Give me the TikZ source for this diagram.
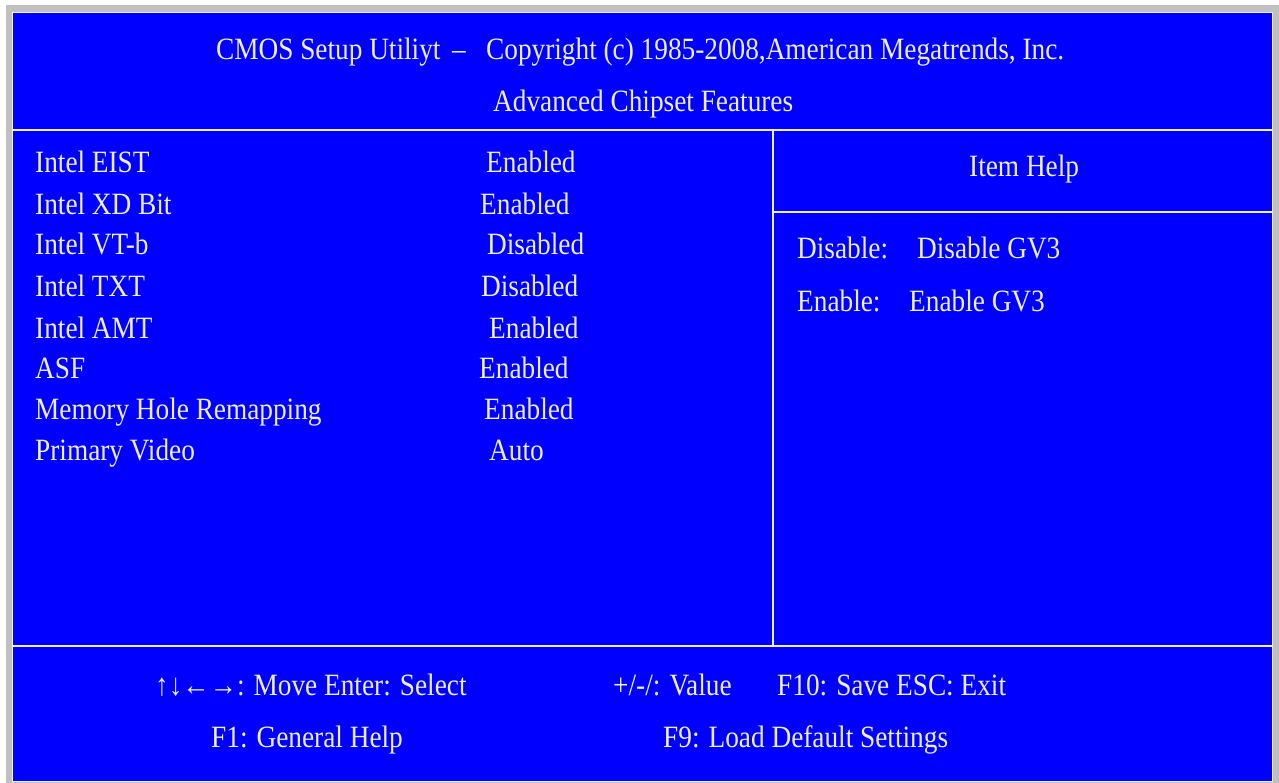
\documentclass[tikz,border=0pt]{standalone}
\usepackage{fontspec}
\setmainfont{Liberation Serif}[FakeStretch=0.88]
\newfontfamily\arrowfont{Liberation Serif}[FakeStretch=0.88]
\definecolor{biosblue}{RGB}{0,0,255}
\definecolor{framegray}{RGB}{192,192,192}
\definecolor{txt}{RGB}{238,238,255}
\begin{document}
\begin{tikzpicture}[x=1pt,y=-1pt,
  lbl/.style={anchor=base west,inner sep=0pt,text=txt,font=\fontsize{31}{37}\selectfont},
  rule/.style={draw=txt,line width=1.5pt}]
\useasboundingbox (0,0) rectangle (1279,783);
\fill[white] (0,0) rectangle (1279,783);
\fill[framegray] (6,5) rectangle (1279,783);
\filldraw[fill=biosblue,draw=txt,line width=1.5pt] (12.5,12.5) rectangle (1272.5,781.5);
% dividers
\coordinate (hl) at (12.5,130);
\coordinate (hr) at (1272.5,130);
\coordinate (vt) at (773,130);
\coordinate (vb) at (773,646);
\coordinate (il) at (773,212);
\coordinate (ir) at (1272.5,212);
\coordinate (bl) at (12.5,646);
\coordinate (br) at (1272.5,646);
\draw[rule] (hl) -- (hr);
\draw[rule] (vt) -- (vb);
\draw[rule] (il) -- (ir);
\draw[rule] (bl) -- (br);
% header
\node[lbl] (t1) at (216,60) {CMOS Setup Utiliyt};
\node[lbl] (t2) at (452,60) {–};
\node[lbl] (t3) at (486,60) {Copyright (c) 1985-2008,American Megatrends, Inc.};
\node[lbl] (t4) at (493,112) {Advanced Chipset Features};
% items
\node[lbl] (i1) at (35,173) {Intel EIST};
\node[lbl] (i2) at (35,215) {Intel XD Bit};
\node[lbl] (i3) at (35,255) {Intel VT-b};
\node[lbl] (i4) at (35,297) {Intel TXT};
\node[lbl] (i5) at (35,338) {Intel AMT};
\node[lbl] (i6) at (35,378) {ASF};
\node[lbl] (i7) at (35,419) {Memory Hole Remapping};
\node[lbl] (i8) at (35,460) {Primary Video};
\node[lbl] (v1) at (486,173) {Enabled};
\node[lbl] (v2) at (480,215) {Enabled};
\node[lbl] (v3) at (487,255) {Disabled};
\node[lbl] (v4) at (481,297) {Disabled};
\node[lbl] (v5) at (489,338) {Enabled};
\node[lbl] (v6) at (479,378) {Enabled};
\node[lbl] (v7) at (484,419) {Enabled};
\node[lbl] (v8) at (489,460) {Auto};
% help
\node[lbl] (h0) at (969,177) {Item Help};
\node[lbl] (h1) at (797,259) {Disable:};
\node[lbl] (h2) at (917,259) {Disable GV3};
\node[lbl] (h3) at (797,312) {Enable:};
\node[lbl] (h4) at (909,312) {Enable GV3};
% footer
\node[lbl] (f1) at (155,695) {{\arrowfont ↑↓←→}: Move Enter: Select};
\node[lbl] (f2) at (613,695) {+/-/: Value};
\node[lbl] (f3) at (777,695) {F10: Save ESC: Exit};
\node[lbl] (f4) at (211,747) {F1: General Help};
\node[lbl] (f5) at (663,747) {F9: Load Default Settings};
\end{tikzpicture}
\end{document}
